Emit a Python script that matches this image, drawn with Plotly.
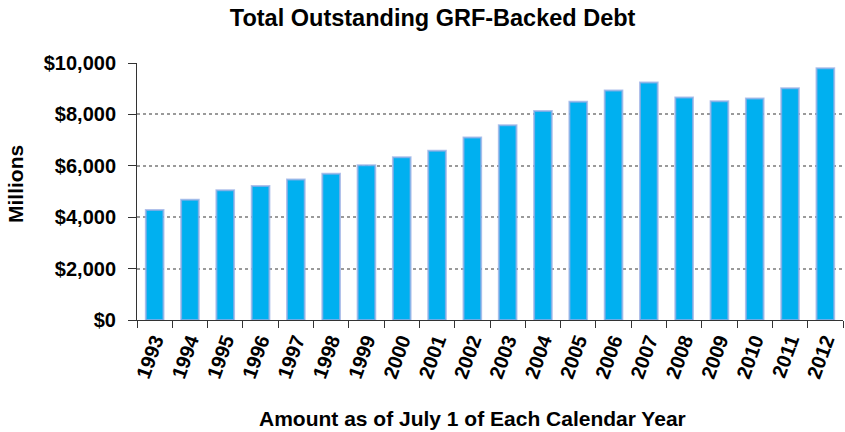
import plotly.graph_objects as go

# Outstanding GRF-backed debt, $ millions, as of July 1 of each year
years = [str(y) for y in range(1993, 2013)]
debt_millions = [4280, 4680, 5050, 5210, 5470, 5690, 6020, 6330, 6590, 7100,
                 7580, 8130, 8490, 8930, 9240, 8660, 8510, 8620, 9020, 9800]
y_ticks = [0, 2000, 4000, 6000, 8000, 10000]
y_tick_text = ["$0", "$2,000", "$4,000", "$6,000", "$8,000", "$10,000"]

FONT = "Liberation Sans, Arial, sans-serif"
W, H = 845, 432
M_L, M_R, M_T, M_B = 137, 2, 63, 112
PLOT_W, PLOT_H = W - M_L - M_R, H - M_T - M_B


def paper_x(px):
    return (px - M_L) / PLOT_W


def paper_y(py):
    return (H - M_B - py) / PLOT_H


fig = go.Figure(
    go.Bar(
        x=years,
        y=debt_millions,
        width=0.5,
        marker=dict(color="#00B0F0",
                    line=dict(color="rgba(150,172,228,0.75)", width=2)),
        hoverinfo="x+y",
    )
)

fig.update_layout(
    width=W,
    height=H,
    margin=dict(l=M_L, r=M_R, t=M_T, b=M_B),
    paper_bgcolor="white",
    plot_bgcolor="white",
    showlegend=False,
    font=dict(family=FONT, color="black"),
    title=dict(
        text="<b>Total Outstanding GRF-Backed Debt</b>",
        x=0.512, xanchor="center", xref="container",
        y=0.958, yanchor="middle", yref="container",
        font=dict(size=23.5, family=FONT),
    ),
    xaxis=dict(
        type="category",
        tickson="boundaries",
        ticks="outside",
        ticklen=7,
        tickcolor="#333",
        showline=True,
        linecolor="#333",
        linewidth=1,
        showgrid=False,
        tickangle=-70,
        tickfont=dict(size=20, family=FONT, weight="bold"),
    ),
    yaxis=dict(
        range=[0, 10000],
        tickvals=y_ticks,
        ticktext=y_tick_text,
        ticks="outside",
        ticklen=8,
        ticklabelstandoff=8,
        tickcolor="#333",
        showline=True,
        linecolor="#333",
        linewidth=1,
        showgrid=True,
        gridcolor="#9a9a9a",
        griddash="dot",
        gridwidth=1.5,
        zeroline=False,
        tickfont=dict(size=20, family=FONT, weight="bold"),
    ),
    annotations=[
        dict(text="<b>Amount as of July 1 of Each Calendar Year</b>",
             xref="paper", yref="paper", x=paper_x(472), y=paper_y(418),
             xanchor="center", yanchor="middle", showarrow=False,
             font=dict(size=21, family=FONT)),
        dict(text="<b>Millions</b>", textangle=-90,
             xref="paper", yref="paper", x=paper_x(15), y=paper_y(184),
             xanchor="center", yanchor="middle", showarrow=False,
             font=dict(size=21, family=FONT)),
    ],
)

fig.write_html("out.html")
